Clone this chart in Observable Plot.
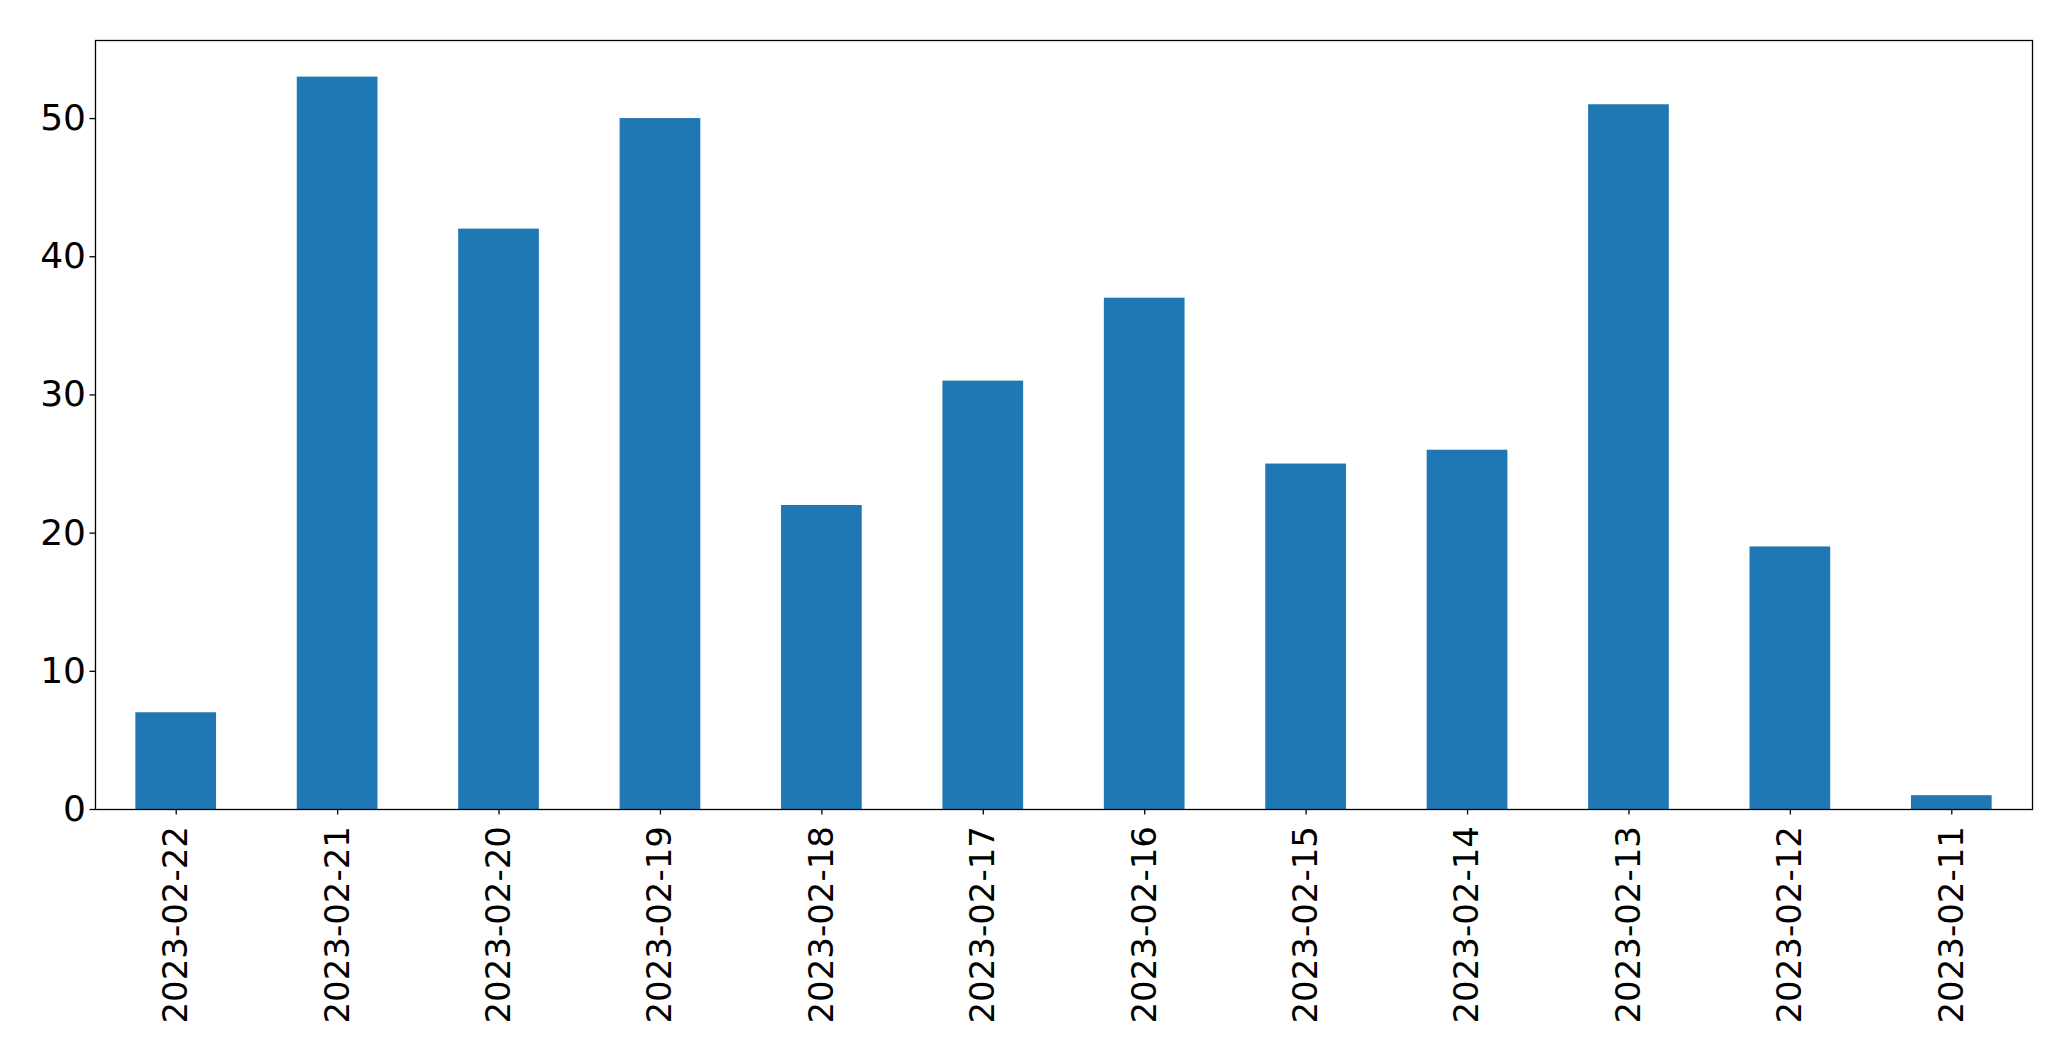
<!DOCTYPE html>
<html>
<head>
<meta charset="utf-8">
<script src="https://cdn.jsdelivr.net/npm/d3@7"></script>
<script src="https://cdn.jsdelivr.net/npm/@observablehq/plot@0.6"></script>
<style>
  html, body { margin: 0; padding: 0; background: #fff; }
  #chart svg { display: block; }
</style>
</head>
<body>
<div id="chart"></div>
<script>
const dates = ["2023-02-22","2023-02-21","2023-02-20","2023-02-19","2023-02-18","2023-02-17","2023-02-16","2023-02-15","2023-02-14","2023-02-13","2023-02-12","2023-02-11"];
const counts = [7, 53, 42, 50, 22, 31, 37, 25, 26, 51, 19, 1];
const yTicks = [0, 10, 20, 30, 40, 50];

const data = dates.map((d, i) => ({date: d, count: counts[i]}));

const chart = Plot.plot({
  width: 2071,
  height: 1061,
  marginLeft: 95,
  marginTop: 40,
  marginRight: 39,
  marginBottom: 252,
  style: {fontFamily: "DejaVu Sans", fontSize: "34px", color: "#000", background: "#fff"},
  x: {type: "band", domain: dates, paddingInner: 0.5, paddingOuter: 0.25, round: false, label: null},
  y: {domain: [0, 55.65], label: null},
  marks: [
    Plot.barY(data, {x: "date", y: "count", fill: "#1f77b4"}),
    Plot.axisY({ticks: yTicks, tickSize: 5.5, tickPadding: 4, fontSize: 36, label: null, stroke: "#000", fill: "#000", strokeWidth: 1.3}),
    Plot.axisX({tickSize: 5.5, tickRotate: -90, tickPadding: 11, fontSize: 34, label: null, stroke: "#000", fill: "#000", strokeWidth: 1.3}),
    Plot.frame({stroke: "#000", strokeWidth: 1.3})
  ]
});
document.getElementById("chart").appendChild(chart);
</script>
</body>
</html>
